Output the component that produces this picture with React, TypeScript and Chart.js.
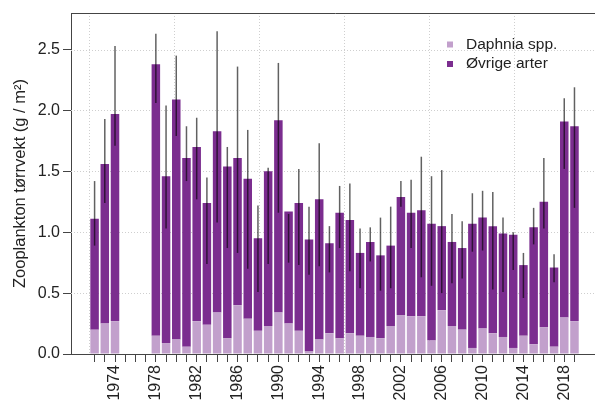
import { useEffect, useRef } from 'react';
import { Chart, registerables } from 'chart.js';

Chart.register(...registerables);

const years = [1972, 1973, 1974, 1978, 1979, 1980, 1981, 1982, 1983, 1984, 1985, 1986, 1987, 1988, 1989, 1990, 1991, 1992, 1993, 1994, 1995, 1996, 1997, 1998, 1999, 2000, 2001, 2002, 2003, 2004, 2005, 2006, 2007, 2008, 2009, 2010, 2011, 2012, 2013, 2014, 2015, 2016, 2017, 2018, 2019];
const daphnia = [0.20, 0.25, 0.27, 0.15, 0.09, 0.12, 0.06, 0.27, 0.24, 0.34, 0.13, 0.40, 0.29, 0.19, 0.23, 0.34, 0.25, 0.19, 0.02, 0.12, 0.17, 0.13, 0.17, 0.15, 0.14, 0.13, 0.23, 0.32, 0.31, 0.31, 0.11, 0.36, 0.23, 0.20, 0.05, 0.21, 0.17, 0.14, 0.05, 0.15, 0.08, 0.22, 0.06, 0.30, 0.27];
const ovrige = [0.91, 1.31, 1.70, 2.23, 1.37, 1.97, 1.55, 1.43, 1.00, 1.49, 1.41, 1.21, 1.15, 0.76, 1.27, 1.58, 0.92, 1.05, 0.92, 1.15, 0.74, 1.03, 0.93, 0.68, 0.78, 0.68, 0.66, 0.97, 0.85, 0.87, 0.96, 0.69, 0.69, 0.67, 1.02, 0.91, 0.88, 0.85, 0.93, 0.58, 0.96, 1.03, 0.65, 1.61, 1.60];
const errLow = [0.89, 1.24, 1.71, 2.06, 1.03, 1.79, 1.42, 1.27, 0.74, 1.08, 0.87, 0.83, 0.70, 0.51, 0.74, 1.16, 0.75, 0.73, 0.65, 0.72, 0.67, 0.87, 0.68, 0.54, 0.76, 0.52, 0.54, 1.21, 0.87, 0.63, 0.56, 0.50, 0.58, 0.62, 0.84, 0.85, 0.53, 0.51, 0.69, 0.46, 0.90, 1.03, 0.59, 1.52, 1.20];
const errHigh = [1.42, 1.93, 2.53, 2.63, 2.04, 2.45, 1.87, 1.94, 1.45, 2.65, 1.70, 2.36, 1.84, 1.22, 1.53, 2.39, 1.15, 1.52, 1.21, 1.73, 1.05, 1.38, 1.40, 1.03, 1.04, 1.12, 1.21, 1.42, 1.43, 1.62, 1.46, 1.51, 1.15, 1.09, 1.32, 1.34, 1.33, 1.12, 1.00, 0.83, 1.20, 1.61, 0.82, 2.10, 2.19];
const yTicks = [0, 0.5, 1.0, 1.5, 2.0, 2.5];
const firstYear = 1972;
const lastYear = 2019;

const LIGHT = '#c2a0cc';
const DARK = '#7b2d8f';
const FONT = '"Liberation Sans", Arial, sans-serif';
const AXIS = '#444444';
const TEXT = '#222222';

// all years on the axis get a tick mark
const tickYears: number[] = [];
for (let yv = firstYear; yv <= lastYear; yv++) tickYears.push(yv);
// R barplot layout: bar centres at 0.7 + 1.2*i, grid every 10 user units
const vGrid: number[] = [];
for (let u = 0; u <= 60; u += 10) vGrid.push(firstYear + (u - 0.7) / 1.2);

const decor = {
  id: 'decor',
  beforeDatasetsDraw(chart: any) {
    const { ctx, chartArea: a, scales } = chart;
    const x = scales.x;
    const y = scales.y;
    ctx.save();
    ctx.strokeStyle = '#cfcfcf';
    ctx.lineWidth = 1;
    ctx.setLineDash([1, 2]);
    yTicks.filter((v) => v > 0).forEach((v) => {
      const py = Math.round(y.getPixelForValue(v)) + 0.5;
      ctx.beginPath();
      ctx.moveTo(a.left, py);
      ctx.lineTo(a.right, py);
      ctx.stroke();
    });
    vGrid.forEach((v) => {
      const px = Math.round(x.getPixelForValue(v)) + 0.5;
      if (px < a.left || px > a.right) return;
      ctx.beginPath();
      ctx.moveTo(px, a.top);
      ctx.lineTo(px, a.bottom);
      ctx.stroke();
    });
    ctx.restore();
  },
  afterDatasetsDraw(chart: any) {
    const { ctx, chartArea: a, scales } = chart;
    const x = scales.x;
    const y = scales.y;
    ctx.save();
    ctx.strokeStyle = 'rgba(0,0,0,0.62)';
    ctx.lineWidth = 1.5;
    years.forEach((yr, i) => {
      const px = x.getPixelForValue(yr);
      ctx.beginPath();
      ctx.moveTo(px, y.getPixelForValue(errLow[i]));
      ctx.lineTo(px, y.getPixelForValue(errHigh[i]));
      ctx.stroke();
    });
    // top frame line
    ctx.strokeStyle = AXIS;
    ctx.lineWidth = 1;
    ctx.beginPath();
    ctx.moveTo(a.left, Math.round(a.top) + 0.5);
    ctx.lineTo(a.right, Math.round(a.top) + 0.5);
    ctx.stroke();
    // legend
    const ds = chart.data.datasets;
    const sx = a.right - 153;
    const sy0 = a.top + 31.5;
    ctx.font = `15.5px ${FONT}`;
    ctx.textBaseline = 'middle';
    ctx.textAlign = 'left';
    ds.forEach((d: any, i: number) => {
      const cy = sy0 + i * 19.5;
      ctx.fillStyle = d.backgroundColor;
      ctx.fillRect(sx, cy - 3, 6, 6);
      ctx.fillStyle = TEXT;
      ctx.fillText(d.label, sx + 19, cy);
    });
    ctx.restore();
  },
};

export default function App() {
  const ref = useRef<HTMLCanvasElement | null>(null);
  useEffect(() => {
    if (!ref.current) return;
    const chart = new Chart(ref.current, {
      type: 'bar',
      data: {
        datasets: [
          {
            label: 'Daphnia spp.',
            data: years.map((yr, i) => ({ x: yr, y: daphnia[i] })),
            backgroundColor: LIGHT,
            stack: 's',
            barPercentage: 1,
            categoryPercentage: 1 / 1.2,
            borderWidth: 0,
          },
          {
            label: 'Øvrige arter',
            data: years.map((yr, i) => ({ x: yr, y: ovrige[i] })),
            backgroundColor: DARK,
            stack: 's',
            barPercentage: 1,
            categoryPercentage: 1 / 1.2,
            borderWidth: 0,
          },
        ],
      } as any,
      options: {
        animation: false,
        responsive: false,
        maintainAspectRatio: false,
        layout: { padding: { top: 13, left: 0, right: 0, bottom: 0 } },
        plugins: { legend: { display: false }, tooltip: { enabled: false } },
        scales: {
          x: {
            type: 'linear',
            min: 1969.69,
            max: 2021.5,
            stacked: true,
            offset: false,
            afterBuildTicks: (s: any) => {
              s.ticks = tickYears.map((v) => ({ value: v }));
            },
            afterFit: (s: any) => {
              s.height = 47;
            },
            ticks: {
              autoSkip: false,
              maxRotation: 90,
              minRotation: 90,
              padding: 3,
              color: TEXT,
              font: { family: FONT, size: 16 },
              callback: (v: any) => (Number(v) % 4 === 2 ? String(v) : ''),
            },
            grid: { drawOnChartArea: false, offset: false, tickLength: 8, tickColor: AXIS, tickWidth: 1 },
            border: { color: AXIS, width: 1 },
          },
          y: {
            min: 0,
            max: 2.8,
            stacked: true,
            afterBuildTicks: (s: any) => {
              s.ticks = yTicks.map((v) => ({ value: v }));
            },
            afterFit: (s: any) => {
              s.width = 71;
            },
            ticks: {
              padding: 3,
              color: TEXT,
              font: { family: FONT, size: 16 },
              callback: (v: any) => Number(v).toFixed(1),
            },
            grid: { drawOnChartArea: false, tickLength: 8, tickColor: AXIS, tickWidth: 1 },
            border: { color: AXIS, width: 1 },
            title: {
              display: true,
              text: 'Zooplankton tørrvekt (g / m²)',
              color: TEXT,
              font: { family: FONT, size: 16.5 },
              padding: { top: 11, bottom: 0 },
            },
          },
        },
      } as any,
      plugins: [decor],
    });
    return () => chart.destroy();
  }, []);
  return (
    <div style={{ position: 'fixed', left: 0, top: 0, width: 600, height: 401 }}>
      <canvas ref={ref} width={600} height={401} style={{ width: 600, height: 401, display: 'block' }} />
    </div>
  );
}
